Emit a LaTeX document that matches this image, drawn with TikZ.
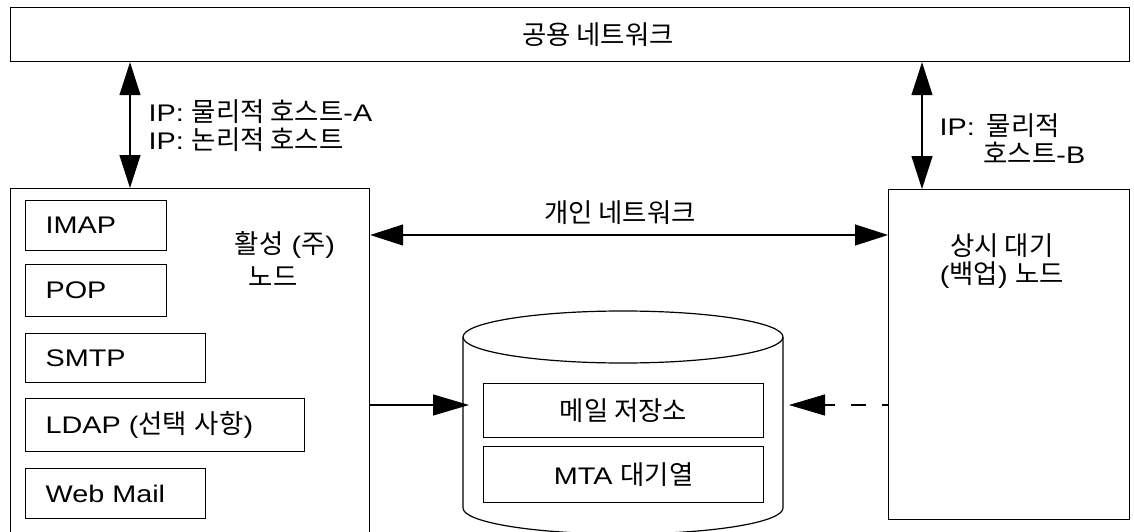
\documentclass[tikz,border=0pt]{standalone}
\usepackage{fontspec}
\setmainfont{Liberation Sans}[FakeStretch=1.2]
\newfontfamily\ko{Noto Sans CJK KR}[Scale=1.1]
\usetikzlibrary{arrows.meta}
\tikzset{
  boxnode/.style={draw, line width=1.2pt, rectangle, anchor=north west, inner sep=0pt},
  svc/.style={boxnode, inner xsep=20pt, align=left},
  store/.style={boxnode, align=center},
  txt/.style={inner sep=0pt, align=center},
  bi/.style={arrows={Triangle[length=33pt,width=21pt]-Triangle[length=33pt,width=21pt]}},
  onehead/.style={arrows={-Triangle[length=36pt,width=21pt]}},
  dashlink/.style={onehead, dash pattern=on 15.5pt off 16pt, dash phase=9.5pt},
}
\begin{document}
\begin{tikzpicture}[x=1pt,y=-1pt,line width=1.2pt,font=\fontsize{24}{28}\selectfont]
\useasboundingbox (0,0) rectangle (1134,532);
\clip (0,0) rectangle (1134,532);
\fill[white] (0,0) rectangle (1134,532);

% public network
\node[boxnode, minimum width=1119pt, minimum height=54pt] (pub) at (10,7) {};
\node[txt] (pubtxt) at (598,35) {\ko 공용 네트워크};

% active node
\node[boxnode, minimum width=359pt, minimum height=380pt] (active) at (10,188) {};
\node[txt] (acttxt1) at (285,245) {{\ko 활성} ({\ko 주})};
\node[txt] (acttxt2) at (273,277) {\ko 노드};

\node[svc, minimum height=50pt, text width=101pt] (imap) at (25,200) {IMAP};
\node[svc, minimum height=52pt, text width=101pt] (pop) at (25,264) {POP};
\node[svc, minimum height=49pt, text width=140pt] (smtp) at (25,333) {SMTP};
\node[svc, minimum height=53pt, text width=239pt] (ldap) at (25,398) {LDAP ({\ko 선택 사항})};
\node[svc, minimum height=50pt, text width=140pt] (web) at (25,468) {Web Mail};

% standby node
\node[boxnode, minimum width=241pt, minimum height=330pt] (standby) at (888,189) {};
\node[txt] (sbtxt) at (1002,261) {{\ko 상시 대기}\\({\ko 백업}) {\ko 노드}};

% storage cylinder
\draw (463,337) -- (463,508) arc[start angle=180, end angle=0, x radius=160, y radius=26] -- (783,337);
\draw (623,337) ellipse [x radius=160, y radius=26];
\node[store, minimum width=280pt, minimum height=54pt] (mailstore) at (483,383) {\ko 메일 저장소};
\node[store, minimum width=280pt, minimum height=56pt] (mtaq) at (483,446) {MTA {\ko 대기열}};
\coordinate (cylW) at (469,405);
\coordinate (cylE) at (789,405);

% connector reference coordinates
\coordinate (xA) at (130,0);
\coordinate (xB) at (922,0);
\coordinate (yPriv) at (0,235);
\coordinate (yData) at (0,405);

% public links
\draw[bi] (pub.south -| xA) -- (active.north -| xA);
\draw[bi] (pub.south -| xB) -- (standby.north -| xB);
\node[anchor=west, inner sep=0pt, align=left] (labA) at (148,126) {IP: {\ko 물리적 호스트}-A\\IP: {\ko 논리적 호스트}};
\node[anchor=west, inner sep=0pt, align=left] (labB) at (939,139) {IP:\hspace*{12pt}{\ko 물리적}\\\hspace*{44pt}{\ko 호스트}-B};

% private network
\draw[bi] (active.east |- yPriv) -- (standby.west |- yPriv);
\node[txt] (privtxt) at (620,213) {\ko 개인 네트워크};

% data links
\draw[onehead] (active.east |- yData) -- (cylW);
\draw[dashlink] (standby.west |- yData) -- (cylE);
\end{tikzpicture}
\end{document}
